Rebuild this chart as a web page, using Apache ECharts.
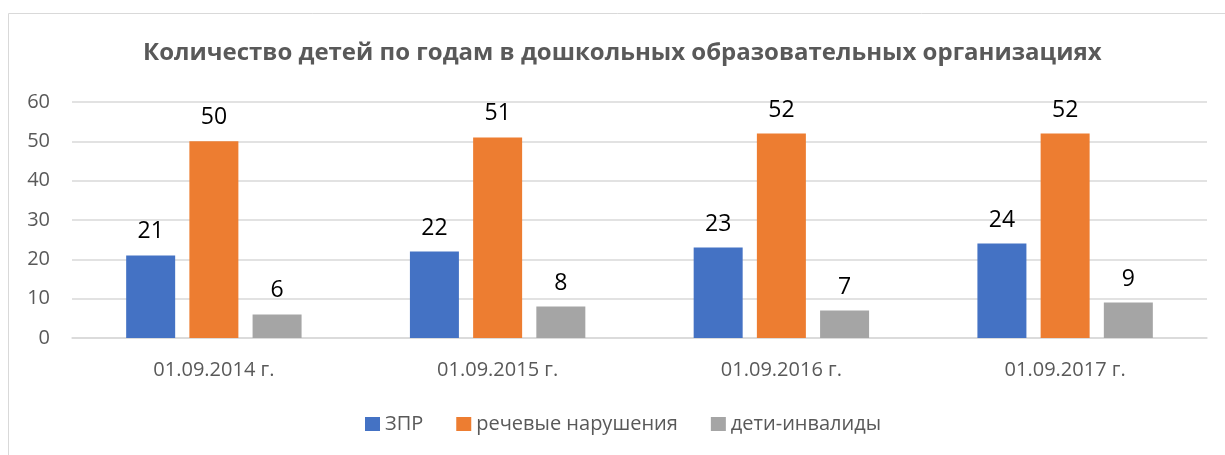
<!DOCTYPE html>
<html>
<head>
    <meta charset="utf-8">
    <title>Количество детей</title>
    <script src="https://cdn.jsdelivr.net/npm/echarts@6/dist/echarts.min.js"></script>
    <style>
        html, body { margin: 0; padding: 0; background: #fff; }
        #main { width: 1225px; height: 455px; }
    </style>
</head>
<body>
<div id="main"></div>
<script>
    var categories = ['01.09.2014 г.', '01.09.2015 г.', '01.09.2016 г.', '01.09.2017 г.'];
    var seriesNames = ['ЗПР', 'речевые нарушения', 'дети-инвалиды'];
    var zpr = [21, 22, 23, 24];
    var speech = [50, 51, 52, 52];
    var disabled = [6, 8, 7, 9];
    var colors = ['#4472C4', '#ED7D31', '#A5A5A5'];

    var font = 'Open Sans, Noto Sans, sans-serif';
    var myChart = echarts.init(document.getElementById('main'));

    function bar(name, data, color) {
        return {
            name: name,
            type: 'bar',
            data: data,
            barWidth: 49,
            barGap: '29%',
            itemStyle: { color: color },
            label: {
                show: true,
                position: 'top',
                distance: 12,
                color: '#000',
                fontSize: 23,
                fontFamily: font
            }
        };
    }

    var option = {
        animation: false,
        color: colors,
        title: {
            text: 'Количество детей по годам в дошкольных образовательных организациях',
            left: 138,
            top: 36,
            textStyle: { color: '#595959', fontSize: 24, fontWeight: 'bold', fontFamily: font }
        },
        legend: {
            top: 409,
            left: 360,
            itemWidth: 15,
            itemHeight: 14,
            itemGap: 33,
            icon: 'rect',
            textStyle: { color: '#595959', fontSize: 20, fontFamily: font },
            data: seriesNames
        },
        grid: { left: 72, right: 18, top: 102, bottom: 117 },
        xAxis: {
            type: 'category',
            data: categories,
            axisLine: { lineStyle: { color: '#d9d9d9', width: 1.5 } },
            axisTick: { show: false },
            axisLabel: { color: '#595959', fontSize: 20, margin: 22, fontFamily: font }
        },
        yAxis: {
            type: 'value',
            min: 0,
            max: 60,
            interval: 10,
            axisLine: { show: false },
            axisTick: { show: false },
            splitLine: { lineStyle: { color: '#d9d9d9', width: 1.5 } },
            axisLabel: { color: '#595959', fontSize: 20, margin: 22, fontFamily: font }
        },
        graphic: [{
            type: 'rect',
            shape: { x: 8.5, y: 13.5, width: 1240, height: 460 },
            style: { fill: 'none', stroke: '#d9d9d9', lineWidth: 1 },
            silent: true
        }],
        series: [
            bar(seriesNames[0], zpr, colors[0]),
            bar(seriesNames[1], speech, colors[1]),
            bar(seriesNames[2], disabled, colors[2])
        ]
    };

    myChart.setOption(option);
</script>
</body>
</html>
